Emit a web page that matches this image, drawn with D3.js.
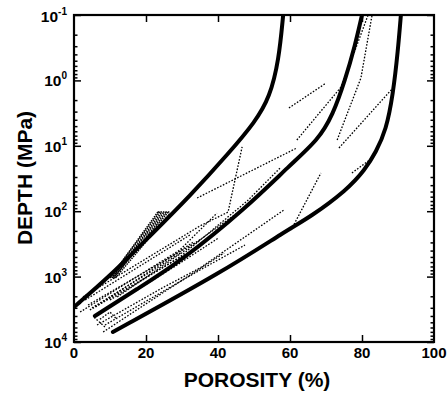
<!DOCTYPE html>
<html><head><meta charset="utf-8">
<script src="https://cdn.jsdelivr.net/npm/d3@7"></script>
<style>body{margin:0;background:#fff}svg{display:block}</style>
</head><body>
<svg id="c" width="448" height="393"></svg>
<script>
// ---- data (porosity %, depth MPa) ----
const xTickValues = [0, 20, 40, 60, 80, 100];
const yDecadeExponents = [-1, 0, 1, 2, 3, 4];
const xTitle = "POROSITY (%)";
const yTitle = "DEPTH (MPa)";

const curveUpper = [[0,2920],[10,980],[21.1,239],[32.2,58.6],[43.3,12.4],[50.3,4.32],[54.4,1.8],[56.9,0.49],[58.1,0.1]];
const curveMiddle = [[5.8,4000],[17.5,1550],[29.4,598],[48.1,86.3],[60,19.7],[67.8,8.15],[71.9,3.38],[75.3,0.99],[78.1,0.288],[80,0.1]];
const curveLower = [[10.8,7030],[41.7,820],[59.2,194],[65.6,123],[75.8,47.4],[80.8,23.4],[83.9,12.4],[86.7,5.73],[88.6,1.67],[90,0.343],[90.8,0.1]];

const dottedUpperRight = [
  [[59.7,2.64],[70,1.10]],
  [[61.9,8.15],[74.2,1.26],[78.1,0.343],[81.7,0.1]],
  [[73.1,8.15],[79.7,0.918],[82.8,0.1]],
  [[73.6,10.8],[88.1,1.40]],
  [[77.2,26.0],[83.3,14.8]],
  [[60.3,194],[68.6,26.0]]
];
const dottedMiddle = [
  [[34.2,62.8],[61.9,10.8]],
  [[2.5,2050],[35,168],[42.8,103],[46.7,10.4]],
  [[1.7,3480],[29.4,392],[39.7,107]],
  [[6.4,5500],[25,1440],[35,739],[58.3,95.9]]
];
const dottedLowerLeft = [
  [[3.9,2720],[35,276]],
  [[4.4,3240],[35,340]],
  [[3.1,2280],[32.2,231]],
  [[8.1,7030],[25,1720],[41.7,435]],
  [[8.6,5500],[35,793],[47.5,329]],
  [[10,2280],[29.4,500],[48.1,70],[57.2,22]],
  [[12,2050],[30,430],[45,110]],
  [[7.2,4500],[10,3480],[11.9,4500]],
  [[5.6,4200],[8.9,6100]],
  [[6,2900],[20,900],[33,300]],
  [[5,3000],[22,800],[30,420]],
  [[14,2100],[28,700],[40,260]]
];
const dottedWedge = [
  [[10,1050],[23.3,103]],
  [[10.2,1000],[23.8,103]],
  [[10.5,1050],[24.4,103]],
  [[10.8,1000],[25,103]],
  [[11,1050],[25.6,103]],
  [[11.2,1000],[26.1,104]],
  [[11.5,1050],[26.7,107]],
  [[23.3,103],[26.7,103]]
];

// ---- layout ----
const svg = d3.select("#c");
const L = 74, R = 434, T = 15, B = 342;
const x = d3.scaleLinear().domain([0, 100]).range([L, R]);
const y = d3.scaleLog().domain([0.1, 10000]).range([T, B]);
const font = "'Liberation Sans', Arial, Helvetica, sans-serif";

const line = d3.line().x(d => x(d[0])).y(d => y(d[1])).curve(d3.curveBasis);
const straight = d3.line().x(d => x(d[0])).y(d => y(d[1]));

const plot = svg.append("g");
plot.append("clipPath").attr("id","clip").append("rect").attr("x",L).attr("y",T).attr("width",R-L).attr("height",B-T);
const g = plot.append("g").attr("clip-path","url(#clip)");

[...dottedUpperRight, ...dottedMiddle, ...dottedLowerLeft].forEach(s => {
  g.append("path").attr("d", straight(s)).attr("fill","none").attr("stroke","#000")
    .attr("stroke-width",1.3).attr("stroke-dasharray","1.6,1.6");
});
dottedWedge.forEach(s => {
  g.append("path").attr("d", straight(s)).attr("fill","none").attr("stroke","#000")
    .attr("stroke-width",1.5).attr("stroke-dasharray","1.5,1");
});
[curveUpper, curveMiddle, curveLower].forEach(c => {
  g.append("path").attr("d", line(c)).attr("fill","none").attr("stroke","#000")
    .attr("stroke-width",4).attr("stroke-linecap","round");
});

// ---- axes ----
const minor = [];
for (let e = -1; e < 4; e++) for (let m = 2; m <= 9; m++) minor.push(m * Math.pow(10, e));
const majors = yDecadeExponents.map(e => Math.pow(10, e));
const inner = xTickValues.filter(v => v > 0 && v < 100);

function styleAxis(a){ a.select(".domain").remove(); a.selectAll("line").attr("stroke","#000").attr("stroke-width",1.5); a.selectAll("text").remove(); }
svg.append("g").attr("transform",`translate(0,${B})`).call(d3.axisBottom(x).tickValues(inner).tickSize(-7)).call(styleAxis);
svg.append("g").attr("transform",`translate(0,${T})`).call(d3.axisTop(x).tickValues(inner).tickSize(-7)).call(styleAxis);
svg.append("g").attr("transform",`translate(${L},0)`).call(d3.axisLeft(y).tickValues(majors).tickSize(-7)).call(styleAxis);
svg.append("g").attr("transform",`translate(${L},0)`).call(d3.axisLeft(y).tickValues(minor).tickSize(-3.5)).call(styleAxis);
svg.append("g").attr("transform",`translate(${R},0)`).call(d3.axisRight(y).tickValues(majors).tickSize(-7)).call(styleAxis);
svg.append("g").attr("transform",`translate(${R},0)`).call(d3.axisRight(y).tickValues(minor).tickSize(-3.5)).call(styleAxis);

svg.append("rect").attr("x",L).attr("y",T).attr("width",R-L).attr("height",B-T)
  .attr("fill","none").attr("stroke","#000").attr("stroke-width",2.2);

// x labels
svg.append("g").selectAll("text").data(xTickValues).join("text")
  .attr("x", d => x(d)).attr("y", B + 16).attr("text-anchor","middle")
  .attr("font-family", font).attr("font-weight","bold").attr("font-size",15)
  .text(d => d);

// y labels
const yl = svg.append("g").selectAll("text").data(yDecadeExponents).join("text")
  .attr("x", 67).attr("y", d => y(Math.pow(10,d)) + (d === -1 ? 7 : 6)).attr("text-anchor","end")
  .attr("font-family", font).attr("font-weight","bold").attr("font-size",15.5);
yl.append("tspan").text("10");
yl.append("tspan").attr("dy",-7).attr("font-size",10).text(d => d);

// titles
svg.append("text").attr("x", 257).attr("y", 387).attr("text-anchor","middle")
  .attr("font-family", font).attr("font-weight","bold").attr("font-size",21).text(xTitle);
svg.append("text").attr("transform","translate(32,178) rotate(-90)").attr("text-anchor","middle")
  .attr("font-family", font).attr("font-weight","bold").attr("font-size",21).text(yTitle);
</script>
</body></html>
